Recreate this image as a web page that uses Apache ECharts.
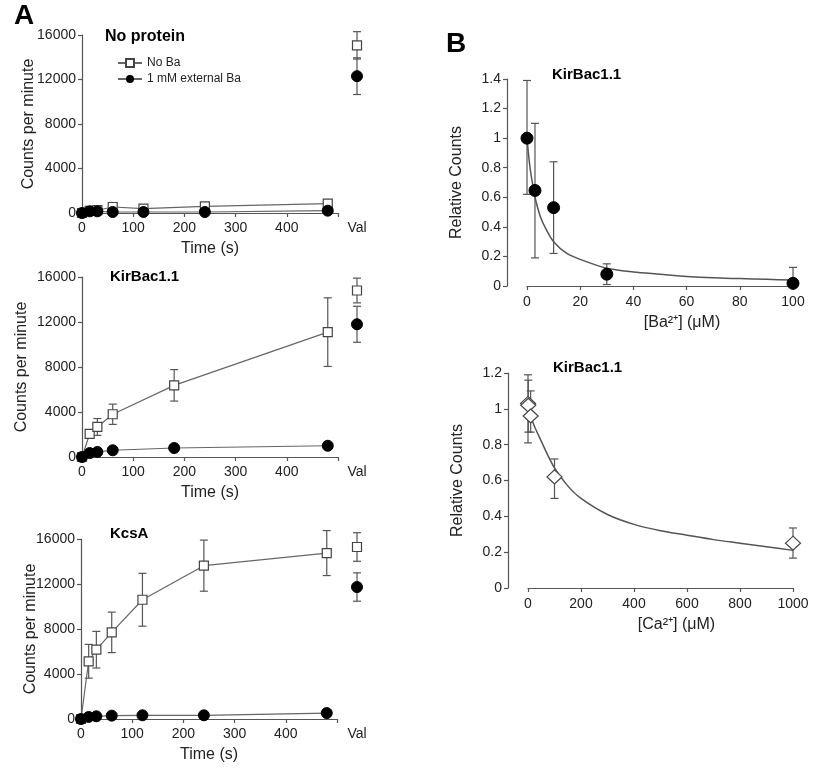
<!DOCTYPE html>
<html><head><meta charset="utf-8">
<script src="https://cdn.jsdelivr.net/npm/echarts@6/dist/echarts.min.js"></script>
<style>html,body{margin:0;padding:0;background:#fff}#c{width:825px;height:770px}</style>
</head><body><div id="c"></div>
<script>
// ---------- Panel A data ----------
const timeLabels = [0, 100, 200, 300, 400];
const tNoProtein = [0, 15, 30, 60, 120, 240, 480];
const noProteinNoBa = [0, 200, 250, 540, 390, 600, 840];
const noProteinNoBaErr = [0, 0, 0, 100, 100, 150, 200];
const noProteinBa = [0, 150, 150, 90, 90, 90, 210];
const tKirBac = [0, 15, 30, 60, 180, 480];
const kirBacNoBa = [0, 2050, 2670, 3800, 6370, 11100];
const kirBacNoBaErr = [0, 300, 750, 900, 1400, 3050];
const kirBacBa = [0, 350, 450, 600, 800, 1000];
const tKcsA = [0, 15, 30, 60, 120, 240, 480];
const kcsANoBa = [0, 5130, 6160, 7700, 10600, 13630, 14750];
const kcsANoBaErr = [0, 1500, 1630, 1800, 2350, 2270, 2000];
const kcsABa = [0, 180, 240, 300, 330, 330, 530];
// valinomycin column, order: No protein, KirBac1.1, KcsA
const valNoBa = [15070, 14800, 15290];
const valNoBaErr = [1230, 1100, 1270];
const valBa = [12300, 11800, 11730];
const valBaErr = [1650, 1600, 1260];

// ---------- Panel B data ----------
const baConc = [0, 3, 10, 30, 100];
const baRel = [1.0, 0.646, 0.53, 0.08, 0.018];
const baLow = [0.62, 0.19, 0.22, 0.01, 0];
const baHigh = [1.39, 1.10, 0.84, 0.15, 0.126];
const baFitX = [0, 1, 2, 3, 5, 7, 10, 15, 20, 30, 40, 50, 60, 70, 80, 90, 100];
const baFitY = [1.0, 0.82, 0.70, 0.60, 0.47, 0.39, 0.30, 0.22, 0.18, 0.12, 0.095, 0.08, 0.065, 0.055, 0.05, 0.045, 0.04];
const caConc = [0, 1, 10, 100, 1000];
const caRel = [1.03, 1.02, 0.96, 0.62, 0.25];
const caLow = [0.81, 0.87, 0.87, 0.50, 0.167];
const caHigh = [1.19, 1.16, 1.10, 0.72, 0.335];
const caFitX = [0, 10, 25, 50, 75, 100, 150, 200, 300, 400, 500, 600, 700, 800, 900, 1000];
const caFitY = [1.0, 0.96, 0.90, 0.82, 0.74, 0.67, 0.57, 0.50, 0.41, 0.355, 0.32, 0.295, 0.27, 0.25, 0.23, 0.21];

const FONT = '"Liberation Sans", Arial, Helvetica, sans-serif';
const AX = '#555';
const TXT = '#222';
const LINE = '#666';

const zip = (xs, ys) => xs.map((x, i) => [x, ys[i]]);
const errData = (xs, ys, es) => xs.map((x, i) => [x, ys[i] - es[i], ys[i] + es[i]]).filter((d, i) => es[i] > 0);
const rangeData = (xs, lo, hi) => xs.map((x, i) => [x, lo[i], hi[i]]);
const plain = v => String(Math.round(v * 1000) / 1000);

function errSeries(ai, data) {
  return {
    type: 'custom', xAxisIndex: ai, yAxisIndex: ai, data: data, z: 2, silent: true, clip: false,
    encode: { x: 0, y: [1, 2] },
    renderItem: function (params, api) {
      const x = api.value(0), lo = api.value(1), hi = api.value(2);
      const p1 = api.coord([x, lo]), p2 = api.coord([x, hi]);
      const c = 4;
      const st = { stroke: AX, lineWidth: 1.2 };
      return { type: 'group', children: [
        { type: 'line', shape: { x1: p1[0], y1: p1[1], x2: p2[0], y2: p2[1] }, style: st },
        { type: 'line', shape: { x1: p1[0] - c, y1: p1[1], x2: p1[0] + c, y2: p1[1] }, style: st },
        { type: 'line', shape: { x1: p2[0] - c, y1: p2[1], x2: p2[0] + c, y2: p2[1] }, style: st }
      ] };
    }
  };
}

const sqStyle = { color: '#fff', borderColor: '#444', borderWidth: 1.2, opacity: 1 };
const dotStyle = { color: '#000', borderColor: '#000', opacity: 1 };

function lineSeries(ai, name, data, isSquare) {
  return {
    type: 'line', name: name, xAxisIndex: ai, yAxisIndex: ai, data: data, clip: false,
    symbol: isSquare ? 'rect' : 'circle', symbolSize: isSquare ? 9 : 11,
    itemStyle: isSquare ? sqStyle : dotStyle,
    lineStyle: { color: LINE, width: 1.2 }, z: isSquare ? 3 : 4, silent: true
  };
}
function valPoint(ai, v, isSquare) {
  return {
    type: 'scatter', xAxisIndex: ai, yAxisIndex: ai, data: [['Val', v]], clip: false,
    symbol: isSquare ? 'rect' : 'circle', symbolSize: isSquare ? 9 : 11,
    itemStyle: isSquare ? sqStyle : dotStyle, z: isSquare ? 3 : 4, silent: true
  };
}

const labelStyle = { color: TXT, fontSize: 14, fontFamily: FONT };
const nameStyle = { color: TXT, fontSize: 16, fontFamily: FONT };
const axLine = { show: true, onZero: false, lineStyle: { color: AX, width: 1.2 } };
const axTick = { show: true, length: 4, lineStyle: { color: AX, width: 1.2 } };

const panelsA = [
  { top: 35, height: 178, left: 82, yGap: 45 },
  { top: 277, height: 180, left: 82, yGap: 52 },
  { top: 539, height: 180, left: 81, yGap: 42 }
];

const grids = [], xAxes = [], yAxes = [];
panelsA.forEach(p => {
  grids.push({ left: p.left, top: p.top, width: 256, height: p.height });
  grids.push({ left: 345, top: p.top, width: 24, height: p.height });
  const gi = grids.length - 2;
  xAxes.push({
    type: 'value', gridIndex: gi, min: 0, max: 500, interval: 100,
    axisLine: axLine, axisTick: axTick,
    axisLabel: Object.assign({ margin: 8, formatter: v => (timeLabels.indexOf(v) >= 0 ? String(v) : '') }, labelStyle),
    splitLine: { show: false },
    name: 'Time (s)', nameLocation: 'middle', nameGap: 28, nameMoveOverlap: false, nameTextStyle: nameStyle
  });
  xAxes.push({
    type: 'category', gridIndex: gi + 1, data: ['Val'],
    axisLine: { show: false }, axisTick: { show: false },
    axisLabel: Object.assign({ margin: 8 }, labelStyle), splitLine: { show: false }
  });
  yAxes.push({
    type: 'value', gridIndex: gi, min: 0, max: 16000, interval: 4000,
    axisLine: axLine, axisTick: axTick,
    axisLabel: Object.assign({ margin: 6, formatter: plain }, labelStyle), splitLine: { show: false },
    name: 'Counts per minute', nameLocation: 'middle', nameGap: p.yGap, nameMoveOverlap: false, nameTextStyle: nameStyle
  });
  yAxes.push({ type: 'value', gridIndex: gi + 1, min: 0, max: 16000, show: false, splitLine: { show: false } });
});

// Panel B: data grids (6, 7) and separate y-axis strips (8, 9) so the y axis stands apart from x = 0
grids.push({ left: 527, top: 79, width: 266, height: 207 });
grids.push({ left: 528, top: 373, width: 265, height: 215 });
grids.push({ left: 507, top: 79, width: 20, height: 207 });
grids.push({ left: 508, top: 373, width: 20, height: 215 });
[[6, 100, 20, '[Ba\u00b2\u207a] (\u03bcM)', 1.4, 44], [7, 1000, 200, '[Ca\u00b2\u207a] (\u03bcM)', 1.2, 32]].forEach(b => {
  xAxes.push({
    type: 'value', gridIndex: b[0], min: 0, max: b[1], interval: b[2],
    axisLine: axLine, axisTick: axTick,
    axisLabel: Object.assign({ margin: 9, formatter: plain }, labelStyle), splitLine: { show: false },
    name: b[3], nameLocation: 'middle', nameGap: 29, nameMoveOverlap: false,
    nameTextStyle: Object.assign({ padding: [0, 0, 0, b[5]] }, nameStyle)
  });
  yAxes.push({ type: 'value', gridIndex: b[0], min: 0, max: b[4], show: false, splitLine: { show: false } });
});
[[8, 1.4], [9, 1.2]].forEach(b => {
  xAxes.push({ type: 'value', gridIndex: b[0], min: 0, max: 1, show: false, splitLine: { show: false } });
  yAxes.push({
    type: 'value', gridIndex: b[0], min: 0, max: b[1], interval: 0.2,
    axisLine: axLine, axisTick: axTick,
    axisLabel: Object.assign({ margin: 6, formatter: plain }, labelStyle), splitLine: { show: false },
    name: 'Relative Counts', nameLocation: 'middle', nameGap: 42, nameMoveOverlap: false, nameTextStyle: nameStyle
  });
});

const series = [
  // A1 No protein
  errSeries(0, errData(tNoProtein, noProteinNoBa, noProteinNoBaErr)),
  lineSeries(0, 'No Ba', zip(tNoProtein, noProteinNoBa), true),
  lineSeries(0, '1 mM external Ba', zip(tNoProtein, noProteinBa), false),
  errSeries(1, [['Val', valNoBa[0] - valNoBaErr[0], valNoBa[0] + valNoBaErr[0]], ['Val', valBa[0] - valBaErr[0], valBa[0] + valBaErr[0]]]),
  valPoint(1, valNoBa[0], true), valPoint(1, valBa[0], false),
  // A2 KirBac1.1
  errSeries(2, errData(tKirBac, kirBacNoBa, kirBacNoBaErr)),
  lineSeries(2, 'KirBac No Ba', zip(tKirBac, kirBacNoBa), true),
  lineSeries(2, 'KirBac Ba', zip(tKirBac, kirBacBa), false),
  errSeries(3, [['Val', valNoBa[1] - valNoBaErr[1], valNoBa[1] + valNoBaErr[1]], ['Val', valBa[1] - valBaErr[1], valBa[1] + valBaErr[1]]]),
  valPoint(3, valNoBa[1], true), valPoint(3, valBa[1], false),
  // A3 KcsA
  errSeries(4, errData(tKcsA, kcsANoBa, kcsANoBaErr)),
  lineSeries(4, 'KcsA No Ba', zip(tKcsA, kcsANoBa), true),
  lineSeries(4, 'KcsA Ba', zip(tKcsA, kcsABa), false),
  errSeries(5, [['Val', valNoBa[2] - valNoBaErr[2], valNoBa[2] + valNoBaErr[2]], ['Val', valBa[2] - valBaErr[2], valBa[2] + valBaErr[2]]]),
  valPoint(5, valNoBa[2], true), valPoint(5, valBa[2], false),
  // B1 Ba dose response
  errSeries(6, rangeData(baConc, baLow, baHigh)),
  { type: 'line', xAxisIndex: 6, yAxisIndex: 6, data: zip(baFitX, baFitY), showSymbol: false, smooth: 0.3,
    lineStyle: { color: AX, width: 1.5 }, z: 3, silent: true },
  { type: 'scatter', xAxisIndex: 6, yAxisIndex: 6, data: zip(baConc, baRel), symbol: 'circle', symbolSize: 12,
    itemStyle: dotStyle, z: 5, silent: true, clip: false },
  // B2 Ca dose response
  errSeries(7, rangeData(caConc, caLow, caHigh)),
  { type: 'line', xAxisIndex: 7, yAxisIndex: 7, data: zip(caFitX, caFitY), showSymbol: false, smooth: 0.3,
    lineStyle: { color: AX, width: 1.5 }, z: 3, silent: true },
  { type: 'scatter', xAxisIndex: 7, yAxisIndex: 7, data: zip(caConc, caRel), symbol: 'diamond', symbolSize: [15, 14],
    itemStyle: sqStyle, z: 5, silent: true, clip: false }
];

const titleBold = (text, left, top, size) => ({ text: text, left: left, top: top, padding: 0,
  textStyle: { fontFamily: FONT, fontWeight: 'bold', fontSize: size, color: '#000' } });

const option = {
  backgroundColor: '#fff',
  animation: false,
  title: [
    titleBold('A', 14, 2, 28),
    titleBold('B', 446, 30, 28),
    titleBold('No protein', 105, 29, 16),
    titleBold('KirBac1.1', 110, 269, 15),
    titleBold('KcsA', 110, 526, 15),
    titleBold('KirBac1.1', 552, 67, 15),
    titleBold('KirBac1.1', 553, 360, 15)
  ],
  legend: {
    left: 112, top: 52, orient: 'vertical', itemGap: 4, itemWidth: 24, itemHeight: 10,
    data: ['No Ba', '1 mM external Ba'], selectedMode: false,
    textStyle: { fontSize: 12, color: TXT, fontFamily: FONT }
  },
  grid: grids,
  xAxis: xAxes,
  yAxis: yAxes,
  series: series
};

const chart = echarts.init(document.getElementById('c'), null, { renderer: 'canvas' });
chart.setOption(option);
</script>
</body></html>
